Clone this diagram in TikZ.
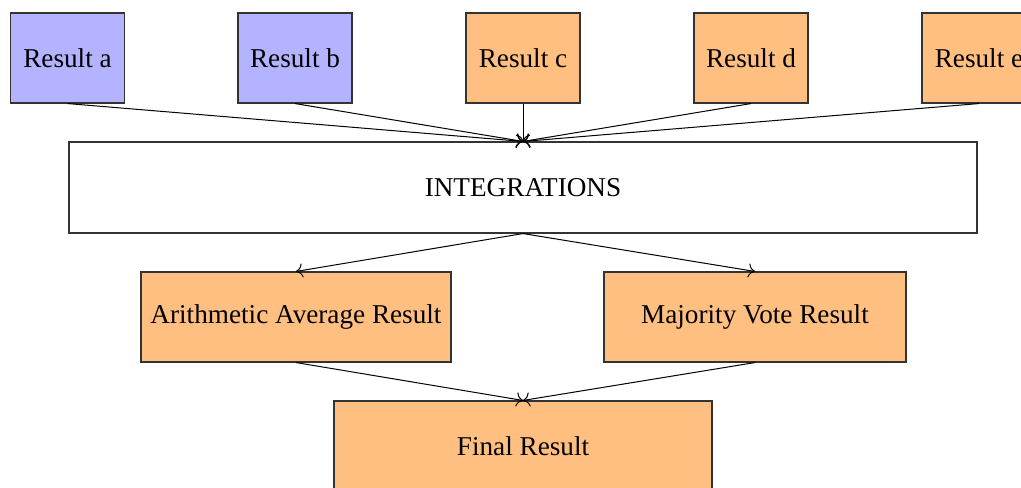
\documentclass[tikz,border=0pt]{standalone}
\usepackage{fontspec}
\setmainfont{Liberation Serif}
\usetikzlibrary{arrows.meta}
\definecolor{resblue}{RGB}{179,179,255}
\definecolor{resorange}{RGB}{255,191,128}
\begin{document}
\begin{tikzpicture}[x=0.5pt,y=-0.5pt,
  every node/.style={font=\fontsize{13.6}{16}\selectfont},
  box/.style={draw=black!80, line width=0.55pt, inner sep=0pt, align=center, minimum height=45pt},
  resbox/.style={box, minimum width=57pt},
  conn/.style={-{Computer Modern Rightarrow[scale=1.25]}, line width=0.5pt}]
  \useasboundingbox (0,0) rectangle (1021,487);
  \clip (0,0) rectangle (1021,487);
  % individual results
  \node[resbox, fill=resblue]   (ra) at (67.5,58) {Result a};
  \node[resbox, fill=resblue]   (rb) at (295,58) {Result b};
  \node[resbox, fill=resorange] (rc) at (523,58) {Result c};
  \node[resbox, fill=resorange] (rd) at (751,58) {Result d};
  \node[resbox, fill=resorange] (re) at (979,58) {Result e};
  % integration stage
  \node[box, minimum width=454pt, minimum height=45.5pt] (int) at (523,187.5) {INTEGRATIONS};
  % combined results
  \node[box, fill=resorange, minimum width=155pt] (avg) at (296,317) {Arithmetic Average Result};
  \node[box, fill=resorange, minimum width=151pt] (vote) at (755,317) {Majority Vote Result};
  \node[box, fill=resorange, minimum width=189pt] (fin) at (523,446) {Final Result};
  % connectors
  \foreach \n in {ra,rb,rc,rd,re}
    \draw[conn] (\n.south) -- (int.north);
  \draw[conn] (int.south) -- (avg.north);
  \draw[conn] (int.south) -- (vote.north);
  \draw[conn] (avg.south) -- (fin.north);
  \draw[conn] (vote.south) -- (fin.north);
\end{tikzpicture}
\end{document}
